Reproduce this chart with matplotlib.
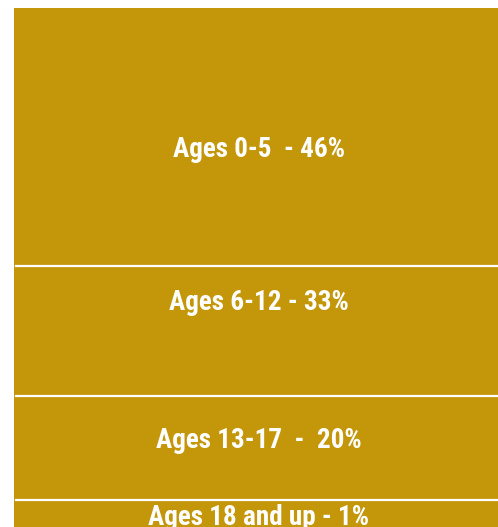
"""
Age distribution drawn as a single stacked column (infographic style).
"""

import matplotlib
matplotlib.use('Agg')
import matplotlib.pyplot as plt
from matplotlib import font_manager
import numpy

# Data
labels = ['Ages 0-5  - 46%', 'Ages 6-12 - 33%', 'Ages 13-17  -  20%', 'Ages 18 and up - 1%']
# drawn segment heights (the infographic does not scale them to the percentages)
seg_heights = [257.5, 130.5, 103.8, 27.2]
# where the label baseline sits inside each segment (fraction from its top)
label_pos = [0.579, 0.341, 0.501, 0.93]

GOLD = '#c4960a'

names = {f.name for f in font_manager.fontManager.ttflist}
family = 'DejaVu Sans'
for cand in ['Roboto Condensed', 'Francois One', 'Liberation Sans Narrow']:
	if cand in names:
		family = cand
		break

W, H = 498, 527
fig = plt.figure(figsize=(W / 100, H / 100), dpi=100)
fig.patch.set_facecolor('white')

# bar area: x 14..498, y 8..bottom of figure
ax = fig.add_axes([14 / W, 0, (W - 14) / W, (H - 8) / H])
heights = numpy.array(seg_heights)
bottoms = numpy.concatenate([[0], numpy.cumsum(heights)[:-1]])
ax.bar([0] * len(heights), heights, bottom=bottoms, width=1.0, color=GOLD,
	edgecolor='none', align='center')
ax.set_xlim(-0.5, 0.5)
ax.set_ylim(heights.sum(), 0)
ax.axis('off')

# white separators between segments, slightly inset on the left
for b in bottoms[1:]:
	ax.axhline(b, xmin=2 / (W - 14), xmax=1, color='white', linewidth=1.6)

for lab, b, h, f in zip(labels, bottoms, heights, label_pos):
	ax.text(0.006, b + f * h, lab, ha='center', va='baseline', color='white',
		fontsize=19.5, fontweight='bold', family=family)

fig.savefig('out.png', dpi=100, facecolor='white')
